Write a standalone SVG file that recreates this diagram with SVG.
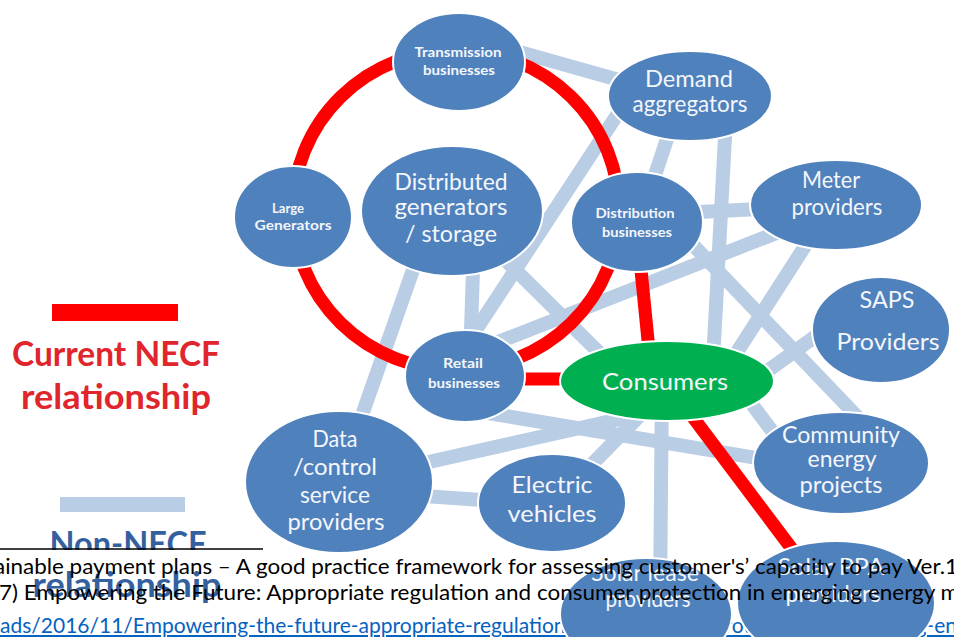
<svg xmlns="http://www.w3.org/2000/svg" width="954" height="637" viewBox="0 0 954 637">
  <defs>
    <style>
      .node ellipse { fill: #4f81bd; stroke: #ffffff; stroke-width: 2; }
      #consumers ellipse { fill: #00b050; }
      .nt { font-family: Lato, "Liberation Sans", sans-serif; fill: #f4f6fa; text-anchor: middle; }
      .big { font-size: 23px; }
      .sm { font-size: 13.5px; font-weight: 700; }
      .other { stroke: #b9cde5; stroke-width: 14; fill: none; }
      .necf { stroke: #ff0000; stroke-width: 13; fill: none; }
      .legend { font-family: Lato, "Liberation Sans", sans-serif; font-size: 34px; font-weight: 700; text-anchor: middle; }
      .foot { font-family: Lato, "Liberation Sans", sans-serif; font-size: 21px; fill: #000000; }
      .link { font-family: Lato, "Liberation Sans", sans-serif; font-size: 21px; fill: #0563c1; text-decoration: underline; }
    </style>
    <clipPath id="aboveRule">
      <rect x="0" y="0" width="954" height="550"/>
    </clipPath>
  </defs>

  <rect width="954" height="637" fill="#ffffff"/>

  <!-- footnote link line (sits beneath the figure) -->
  <text class="link" x="0" y="633">ads/2016/11/Empowering-the-future-appropriate-regulation-and-consumer-protection-in-emerging-energy-markets.pdf</text>

  <!-- legend -->
  <g id="legend">
    <rect x="52" y="304" width="126" height="17" fill="#ff0000"/>
    <text class="legend" x="116" y="366" fill="#e0262c" textLength="208" lengthAdjust="spacingAndGlyphs">Current NECF</text>
    <text class="legend" x="116" y="409" fill="#e0262c" textLength="190" lengthAdjust="spacingAndGlyphs">relationship</text>
    <rect x="60" y="497" width="125" height="15" fill="#b9cde5"/>
    <text class="legend" x="128" y="556" fill="#34609f" textLength="157" lengthAdjust="spacingAndGlyphs" clip-path="url(#aboveRule)">Non-NECF</text>
    <text class="legend" x="127" y="597" fill="#34609f" textLength="189" lengthAdjust="spacingAndGlyphs">relationship</text>
  </g>

  <!-- connectors -->
  <g id="connectors">
    <!-- non-NECF relationships -->
    <line class="other" x1="459" y1="35" x2="690" y2="100"/>
    <line class="other" x1="640" y1="80" x2="466" y2="345"/>
    <line class="other" x1="680" y1="100" x2="640" y2="220"/>
    <line class="other" x1="727" y1="100" x2="712" y2="380"/>
    <line class="other" x1="640" y1="215" x2="835" y2="205"/>
    <line class="other" x1="465" y1="355" x2="835" y2="210"/>
    <line class="other" x1="480" y1="235" x2="640" y2="393"/>
    <line class="other" x1="474" y1="240" x2="470" y2="360"/>
    <line class="other" x1="420" y1="250" x2="355" y2="435"/>
    <line class="other" x1="650" y1="200" x2="870" y2="430"/>
    <line class="other" x1="825" y1="215" x2="719" y2="380"/>
    <line class="other" x1="870" y1="297" x2="720" y2="405"/>
    <line class="other" x1="470" y1="410" x2="840" y2="472"/>
    <line class="other" x1="340" y1="482" x2="660" y2="410"/>
    <line class="other" x1="338" y1="490" x2="552" y2="505"/>
    <line class="other" x1="560" y1="497" x2="650" y2="405"/>
    <line class="other" x1="662" y1="380" x2="660" y2="600"/>
    <line class="other" x1="730" y1="375" x2="790" y2="455"/>
    <!-- current NECF relationships -->
    <ellipse class="necf" cx="456" cy="210" rx="163" ry="160"/>
    <line class="necf" x1="640" y1="260" x2="649" y2="350"/>
    <line class="necf" x1="515" y1="379" x2="580" y2="379" stroke-width="15"/>
    <line class="necf" x1="680" y1="400" x2="795" y2="553" stroke-width="14"/>
  </g>

  <!-- nodes -->
  <g id="transmission" class="node">
    <ellipse cx="459" cy="62" rx="66" ry="49"/>
    <text class="nt sm" x="458" y="57" textLength="87" lengthAdjust="spacingAndGlyphs">Transmission</text>
    <text class="nt sm" x="459" y="75" textLength="72" lengthAdjust="spacingAndGlyphs">businesses</text>
  </g>
  <g id="demand" class="node">
    <ellipse cx="690" cy="96" rx="82" ry="45"/>
    <text class="nt big" x="689" y="87" textLength="88" lengthAdjust="spacingAndGlyphs">Demand</text>
    <text class="nt big" x="690" y="112" textLength="115" lengthAdjust="spacingAndGlyphs">aggregators</text>
  </g>
  <g id="large-generators" class="node">
    <ellipse cx="293" cy="217" rx="59" ry="51"/>
    <text class="nt sm" x="288" y="213" textLength="32" lengthAdjust="spacingAndGlyphs">Large</text>
    <text class="nt sm" x="293" y="230" textLength="77" lengthAdjust="spacingAndGlyphs">Generators</text>
  </g>
  <g id="distributed" class="node">
    <ellipse cx="452" cy="211" rx="91" ry="65"/>
    <text class="nt big" x="451" y="190" textLength="113" lengthAdjust="spacingAndGlyphs">Distributed</text>
    <text class="nt big" x="451" y="215" textLength="113" lengthAdjust="spacingAndGlyphs">generators</text>
    <text class="nt big" x="451" y="242" textLength="92" lengthAdjust="spacingAndGlyphs">/ storage</text>
  </g>
  <g id="distribution" class="node">
    <ellipse cx="637" cy="222" rx="66" ry="50"/>
    <text class="nt sm" x="635" y="218" textLength="79" lengthAdjust="spacingAndGlyphs">Distribution</text>
    <text class="nt sm" x="637" y="237" textLength="70" lengthAdjust="spacingAndGlyphs">businesses</text>
  </g>
  <g id="meter" class="node">
    <ellipse cx="836" cy="205" rx="86" ry="45"/>
    <text class="nt big" x="831" y="188" textLength="58" lengthAdjust="spacingAndGlyphs">Meter</text>
    <text class="nt big" x="837" y="215" textLength="91" lengthAdjust="spacingAndGlyphs">providers</text>
  </g>
  <g id="saps" class="node">
    <ellipse cx="881" cy="330" rx="69" ry="53"/>
    <text class="nt big" x="887" y="308" textLength="55" lengthAdjust="spacingAndGlyphs">SAPS</text>
    <text class="nt big" x="888" y="350" textLength="103" lengthAdjust="spacingAndGlyphs">Providers</text>
  </g>
  <g id="retail" class="node">
    <ellipse cx="465" cy="376" rx="60" ry="46"/>
    <text class="nt sm" x="463" y="368" textLength="40" lengthAdjust="spacingAndGlyphs">Retail</text>
    <text class="nt sm" x="464" y="388" textLength="72" lengthAdjust="spacingAndGlyphs">businesses</text>
  </g>
  <g id="consumers" class="node">
    <ellipse cx="667" cy="381" rx="107" ry="40"/>
    <text class="nt big" x="665" y="390" textLength="126" lengthAdjust="spacingAndGlyphs">Consumers</text>
  </g>
  <g id="data-control" class="node">
    <ellipse cx="339" cy="482" rx="94" ry="71"/>
    <text class="nt big" x="335" y="447" textLength="45" lengthAdjust="spacingAndGlyphs">Data</text>
    <text class="nt big" x="335" y="475" textLength="84" lengthAdjust="spacingAndGlyphs">/control</text>
    <text class="nt big" x="335" y="503" textLength="70" lengthAdjust="spacingAndGlyphs">service</text>
    <text class="nt big" x="336" y="530" textLength="97" lengthAdjust="spacingAndGlyphs">providers</text>
  </g>
  <g id="electric-vehicles" class="node">
    <ellipse cx="552" cy="503" rx="74" ry="49"/>
    <text class="nt big" x="552" y="493" textLength="81" lengthAdjust="spacingAndGlyphs">Electric</text>
    <text class="nt big" x="552" y="522" textLength="89" lengthAdjust="spacingAndGlyphs">vehicles</text>
  </g>
  <g id="community" class="node">
    <ellipse cx="841" cy="463" rx="88" ry="51"/>
    <text class="nt big" x="841" y="443" textLength="118" lengthAdjust="spacingAndGlyphs">Community</text>
    <text class="nt big" x="842" y="467" textLength="69" lengthAdjust="spacingAndGlyphs">energy</text>
    <text class="nt big" x="841" y="493" textLength="83" lengthAdjust="spacingAndGlyphs">projects</text>
  </g>
  <g id="solar-lease" class="node">
    <ellipse cx="646" cy="614" rx="86" ry="56"/>
    <text class="nt big" x="645" y="581" textLength="108" lengthAdjust="spacingAndGlyphs">Solar lease</text>
    <text class="nt big" x="648" y="607" textLength="85" lengthAdjust="spacingAndGlyphs">providers</text>
  </g>
  <g id="solar-ppa" class="node">
    <ellipse cx="836" cy="603" rx="99" ry="62"/>
    <text class="nt big" x="831" y="575" textLength="107" lengthAdjust="spacingAndGlyphs">Solar PPA</text>
    <text class="nt big" x="833" y="602" textLength="95" lengthAdjust="spacingAndGlyphs">providers</text>
  </g>

  <!-- footnote rule and text -->
  <line x1="0" y1="549" x2="263" y2="549" stroke="#000000" stroke-width="1.5"/>
  <text class="foot" x="-6" y="574" textLength="964" lengthAdjust="spacingAndGlyphs">ainable payment plans – A good practice framework for assessing customer's’ capacity to pay Ver.1</text>
  <text class="foot" x="-1" y="600" textLength="960" lengthAdjust="spacingAndGlyphs">7) Empowering the Future: Appropriate regulation and consumer protection in emerging energy m</text>
</svg>
